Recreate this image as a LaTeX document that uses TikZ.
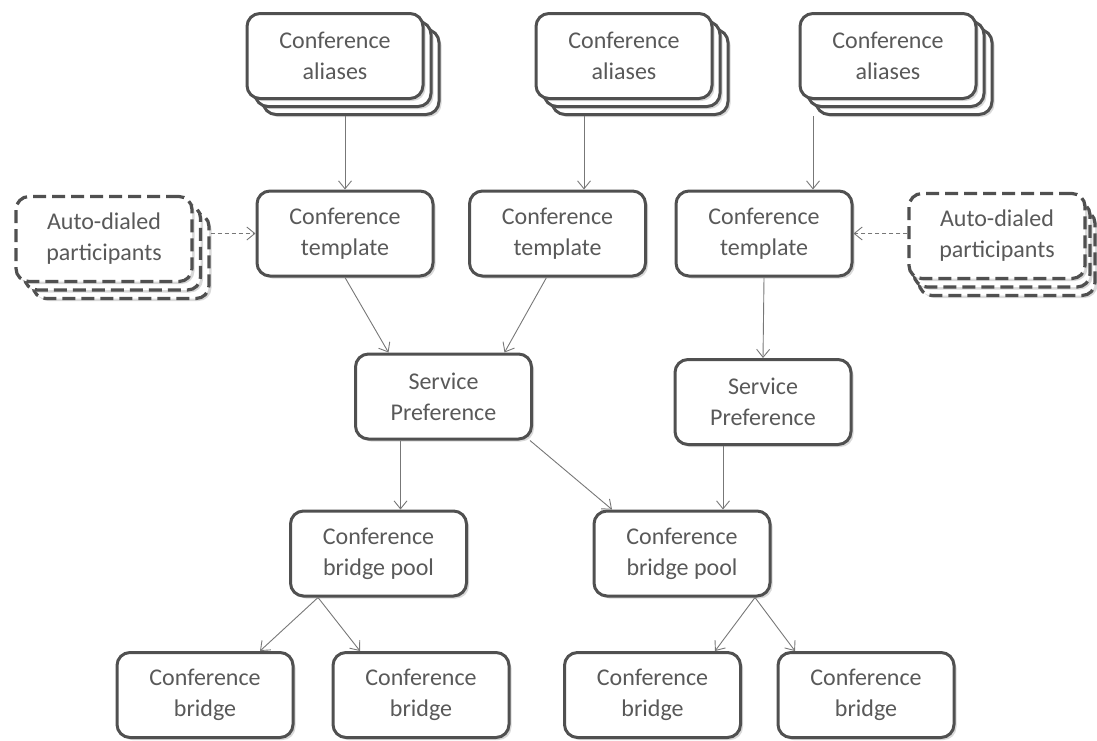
\documentclass[tikz,border=0pt]{standalone}
\usepackage{fontspec}
\setmainfont{Carlito}
\usetikzlibrary{arrows.meta,shadows}
\definecolor{boxline}{HTML}{505050}
\definecolor{txtgray}{HTML}{595959}
\definecolor{arrgray}{HTML}{777777}
\begin{document}
\begin{tikzpicture}[x=1pt,y=-1pt,
    box/.style={draw=boxline, line width=3pt, rounded corners=13pt, fill=white,
      minimum width=176pt, minimum height=85pt, align=center, text=txtgray,
      font=\fontsize{24}{31}\selectfont,
      drop shadow={opacity=0.3, shadow xshift=2.5pt, shadow yshift=-2.5pt}},
    dbox/.style={box, line width=3.2pt, dash pattern=on 13pt off 6pt},
    arr/.style={->, draw=arrgray, line width=0.9pt},
    darr/.style={arr, dash pattern=on 4pt off 3pt},
    >={Straight Barb[length=8pt,width=13pt]}]
    \useasboundingbox (0,0) rectangle (1097,740);

    % 会议别名（三层叠放）
    \foreach \n/\x in {al1/335, al2/624, al3/888} {
        \foreach \k in {2,1}
            \node[box] (\n-\k) at (\x+8*\k, 56+8*\k) {};
        \node[box] (\n) at (\x,56) {Conference\\aliases};
    }

    % 自动拨号参与者（虚线叠放）
    \foreach \n/\x/\y/\dx in {ad1/104/239/8.5, ad2/997/236/5} {
        \foreach \k in {2,1}
            \node[dbox] (\n-\k) at (\x+\dx*\k, \y+8.5*\k) {};
        \node[dbox] (\n) at (\x,\y) {Auto-dialed\\participants};
    }

    % 会议模板、服务偏好、网桥池、网桥
    \foreach \n/\x/\y/\t in {
        t1/345/233.5/{Conference\\template},
        t2/557.5/233.5/{Conference\\template},
        t3/764/233.5/{Conference\\template},
        sp1/443.5/396.5/{Service\\Preference},
        sp2/763/402/{Service\\Preference},
        bp1/378.5/553.5/{Conference\\bridge pool},
        bp2/682/553.5/{Conference\\bridge pool},
        b1/205/695/{Conference\\bridge},
        b2/421/695/{Conference\\bridge},
        b3/652.5/695/{Conference\\bridge},
        b4/866/695/{Conference\\bridge}%
    } {
        \node[box] (\n) at (\x,\y) {\t};
    }

    % 别名 -> 模板
    \draw[arr] (al1-2.south -| t1.north) -- (t1.north);
    \coordinate (a2) at ([xshift=26.5pt]t2.north);
    \draw[arr] (a2 |- al2-2.south) -- (a2);
    \coordinate (a3) at ([xshift=49pt]t3.north);
    \draw[arr] (a3 |- al3-2.south) -- (a3);

    % 自动拨号 -> 模板
    \draw[darr] (t1.west -| ad1-2.east) -- (t1.west);
    \draw[darr] (t3.east -| ad2.west) -- (t3.east);

    % 模板 -> 服务偏好
    \draw[arr] (t1.south) -- ([xshift=-55pt]sp1.north);
    \draw[arr] ([xshift=-11pt]t2.south) -- ([xshift=61pt]sp1.north);
    \draw[arr] (t3.south) -- (sp2.north);

    % 服务偏好 -> 网桥池
    \coordinate (p1) at ([xshift=-43pt]sp1.south);
    \draw[arr] (p1) -- (p1 |- bp1.north);
    \draw[arr] ([xshift=-3pt]sp1.south east) -- ([xshift=-70pt]bp2.north);
    \coordinate (p2) at ([xshift=-40pt]sp2.south);
    \draw[arr] (p2) -- (p2 |- bp2.north);

    % 网桥池 -> 网桥
    \draw[arr] ([xshift=-60.5pt]bp1.south) -- ([xshift=55pt]b1.north);
    \draw[arr] ([xshift=-60.5pt]bp1.south) -- ([xshift=-61pt]b2.north);
    \draw[arr] ([xshift=73pt]bp2.south) -- ([xshift=62.5pt]b3.north);
    \draw[arr] ([xshift=73pt]bp2.south) -- ([xshift=-71pt]b4.north);

\end{tikzpicture}
\end{document}
